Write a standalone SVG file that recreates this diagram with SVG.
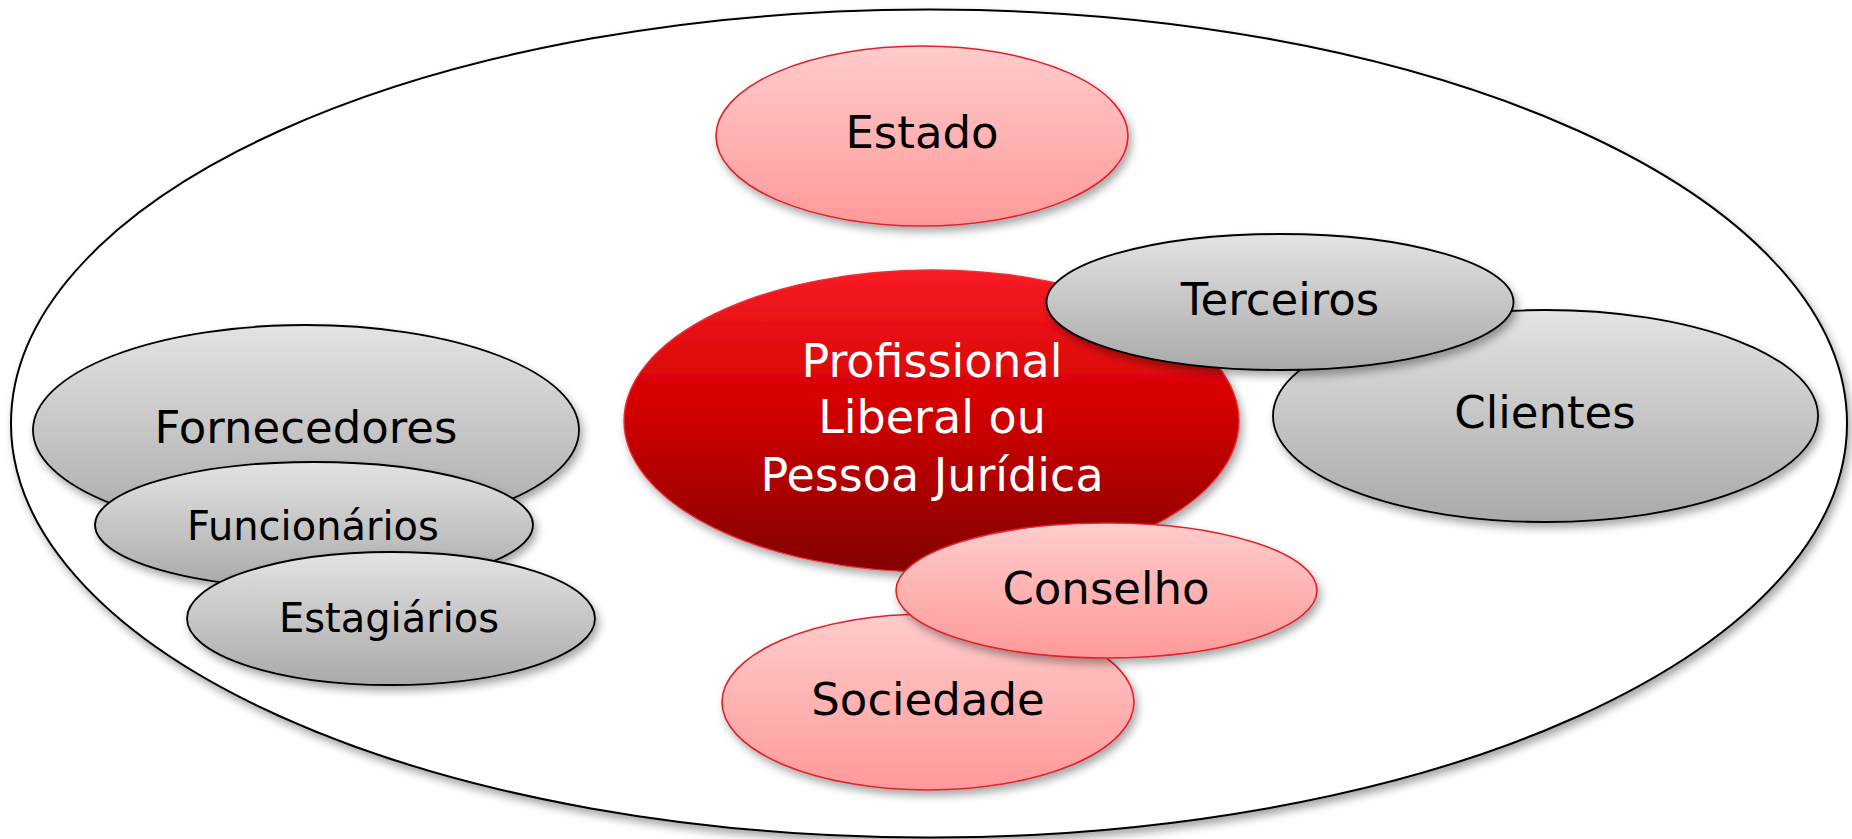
<svg xmlns="http://www.w3.org/2000/svg" width="1852" height="839" viewBox="0 0 1852 839">
  <style>
    .lbl { font-family: "DejaVu Sans", "Liberation Sans", sans-serif; fill: #000; text-anchor: middle; }
    .big { font-size: 45px; }
    .small { font-size: 40px; }
    .white { fill: #fff; font-size: 46px; }
    .pink { fill: url(#gPink); stroke: #e0222c; stroke-width: 1.6; filter: url(#shadow); }
    .gray { fill: url(#gGray); stroke: #000; stroke-width: 1.8; filter: url(#shadow); }
    .red { fill: url(#gRed); stroke: #e8303a; stroke-width: 1.4; filter: url(#shadow); }
  </style>
  <defs>
    <linearGradient id="gPink" x1="0" y1="0" x2="0" y2="1">
      <stop offset="0" stop-color="#ffcccc"/>
      <stop offset="1" stop-color="#ff9999"/>
    </linearGradient>
    <linearGradient id="gGray" x1="0" y1="0" x2="0" y2="1">
      <stop offset="0" stop-color="#e3e3e3"/>
      <stop offset="1" stop-color="#a9a9a9"/>
    </linearGradient>
    <linearGradient id="gRed" x1="0" y1="0" x2="0" y2="1">
      <stop offset="0" stop-color="#f81c24"/>
      <stop offset="0.45" stop-color="#d40000"/>
      <stop offset="1" stop-color="#820000"/>
    </linearGradient>
    <filter id="shadow" x="-10%" y="-10%" width="125%" height="130%">
      <feDropShadow dx="3" dy="5" stdDeviation="4" flood-color="#000" flood-opacity="0.35"/>
    </filter>
  </defs>
  <rect width="1852" height="839" fill="#fff"/>
  <g id="outer">
    <ellipse cx="929" cy="423.5" rx="918" ry="414" fill="#fff" stroke="#000" stroke-width="2" filter="url(#shadow)"/>
  </g>
  <g id="connectors"></g>
  <g id="estado">
    <ellipse class="pink" cx="922" cy="136" rx="206" ry="90"/>
    <text class="lbl big" x="922" y="148">Estado</text>
  </g>
  <g id="profissional">
    <ellipse class="red" cx="931.5" cy="421" rx="307.5" ry="151"/>
    <text class="lbl white" x="932" y="377">Profissional</text>
    <text class="lbl white" x="932" y="433">Liberal ou</text>
    <text class="lbl white" x="932" y="491">Pessoa Jurídica</text>
  </g>
  <g id="clientes">
    <ellipse class="gray" cx="1545.5" cy="416" rx="272.5" ry="106"/>
    <text class="lbl big" x="1545" y="428">Clientes</text>
  </g>
  <g id="terceiros">
    <ellipse class="gray" cx="1280" cy="302" rx="233.5" ry="68"/>
    <text class="lbl big" x="1280" y="315">Terceiros</text>
  </g>
  <g id="fornecedores">
    <ellipse class="gray" cx="306" cy="430" rx="273" ry="105"/>
    <text class="lbl big" x="306" y="443" letter-spacing="0">Fornecedores</text>
  </g>
  <g id="funcionarios">
    <ellipse class="gray" cx="314" cy="525" rx="219" ry="63"/>
    <text class="lbl small" x="313" y="540">Funcionários</text>
  </g>
  <g id="estagiarios">
    <ellipse class="gray" cx="391" cy="618.5" rx="204" ry="66.5"/>
    <text class="lbl small" x="389" y="632">Estagiários</text>
  </g>
  <g id="sociedade">
    <ellipse class="pink" cx="928" cy="702" rx="206" ry="88"/>
    <text class="lbl big" x="928" y="715">Sociedade</text>
  </g>
  <g id="conselho">
    <ellipse class="pink" cx="1106.5" cy="590.5" rx="210.5" ry="67.5"/>
    <text class="lbl big" x="1106" y="604">Conselho</text>
  </g>
</svg>
